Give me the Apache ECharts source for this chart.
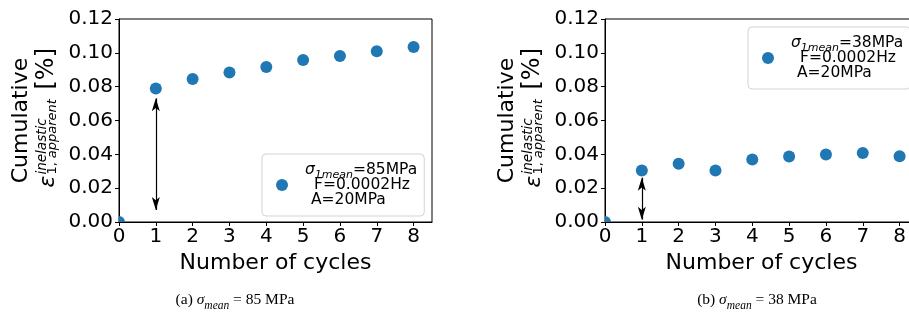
<!DOCTYPE html>
<html>
<head>
<meta charset="utf-8">
<script src="https://cdn.jsdelivr.net/npm/echarts@6/dist/echarts.min.js"></script>
<style>
  html, body { margin: 0; padding: 0; background: #fff; }
  #chart { width: 909px; height: 317px; }
</style>
</head>
<body>
<div id="chart"></div>
<script>
// data
var cycles = [0, 1, 2, 3, 4, 5, 6, 7, 8];
var strainA = [0, 0.0789, 0.0845, 0.0884, 0.0916, 0.0957, 0.0981, 0.1009, 0.1034];
var strainB = [0, 0.0304, 0.0344, 0.0304, 0.0369, 0.0387, 0.0399, 0.0408, 0.0389];
var arrowA = [0.0071, 0.0731];
var arrowB = [0.0014, 0.0262];
var stressMean = [85, 38];
var legendFreq = 'F=0.0002Hz';
var legendAmp = 'A=20MPa';
var captionTags = ['(a)', '(b)'];

var FONT = 'DejaVu Sans';
var BLUE = '#1f77b4';
var gridLeft = [119, 605];
var gridTop = 19;
var gridW = 313;
var gridH = 203;
// matplotlib clips the marker sitting on the axes corner: only a quarter shows
var QUARTER = 'path://M0,0 A10,10 0 0,1 10,10 L0,10 Z';

function legendText(mean) {
    return '{sg|σ}{sb|1mean}{t|=' + mean + 'MPa}\n{t2|' + legendFreq + '}\n{t3|' + legendAmp + '}';
}

var legendRich = {
    sg: { fontFamily: FONT, fontStyle: 'italic', fontSize: 15.5, lineHeight: 15, padding: [0, 0, 0, 12], color: '#000' },
    sb: { fontFamily: FONT, fontStyle: 'italic', fontSize: 11, lineHeight: 15, verticalAlign: 'bottom', padding: [0, 0, -3, 0], color: '#000' },
    t: { fontFamily: FONT, fontSize: 15.5, lineHeight: 15, color: '#000' },
    t2: { fontFamily: FONT, fontSize: 15.5, lineHeight: 15, padding: [0, 0, 0, 21], color: '#000' },
    t3: { fontFamily: FONT, fontSize: 15.5, lineHeight: 15, padding: [0, 0, 0, 18], color: '#000' }
};

function makeGrid(i) {
    return {
        left: gridLeft[i], top: gridTop, width: gridW, height: gridH,
        outerBoundsMode: 'none', containLabel: false,
        show: true, borderColor: '#000', borderWidth: 1, backgroundColor: 'transparent'
    };
}

function makeX(i) {
    return {
        type: 'value', gridIndex: i, min: 0, max: 8.5,
        name: 'Number of cycles', nameLocation: 'middle', nameGap: 27,
        nameTextStyle: { fontFamily: FONT, fontSize: 22, color: '#000' },
        axisLine: { lineStyle: { color: '#000', width: 1 } },
        axisTick: { show: true, inside: false, length: 4, customValues: cycles, lineStyle: { color: '#000' } },
        axisLabel: { customValues: cycles, margin: 5, fontFamily: FONT, fontSize: 20, color: '#000' },
        splitLine: { show: false }
    };
}

function makeY(i) {
    return {
        type: 'value', gridIndex: i, min: 0, max: 0.12, interval: 0.02,
        axisLine: { show: true, lineStyle: { color: '#000', width: 1 } },
        axisTick: { show: true, inside: false, length: 4, lineStyle: { color: '#000' } },
        axisLabel: {
            margin: 6, fontFamily: FONT, fontSize: 20, color: '#000',
            formatter: function (v) { return v.toFixed(2); }
        },
        splitLine: { show: false }
    };
}

function makeSeries(i, vals, arrow) {
    return {
        name: 'leg' + i,
        type: 'scatter', xAxisIndex: i, yAxisIndex: i,
        symbolSize: 12,
        itemStyle: { color: BLUE, opacity: 1 },
        data: cycles.map(function (c, k) {
            if (c === 0 && vals[k] === 0) {
                return { value: [c, vals[k]], symbol: QUARTER, symbolSize: 6, symbolOffset: [3, -3] };
            }
            return [c, vals[k]];
        }),
        markLine: {
            silent: true, animation: false,
            symbol: ['arrow', 'arrow'], symbolSize: [6, 13],
            label: { show: false },
            lineStyle: { color: '#000', width: 1.2, type: 'solid' },
            data: [[{ coord: [1, arrow[0]] }, { coord: [1, arrow[1]] }]]
        }
    };
}

function makeLegend(i, left, top) {
    return {
        data: [{ name: 'leg' + i, icon: 'circle' }],
        left: left, top: top, orient: 'vertical',
        itemWidth: 12, itemHeight: 12,
        padding: [8, 7, 8, 14],
        borderColor: '#d3d3d3', borderWidth: 1, borderRadius: 4,
        backgroundColor: '#fff',
        formatter: function () { return legendText(stressMean[i]); },
        textStyle: { rich: legendRich },
        selectedMode: false
    };
}

function yLabel(gl) {
    var base = { fill: '#000', fontFamily: FONT, verticalAlign: 'middle' };
    function t(o) { return { type: 'text', silent: true, style: Object.assign({}, base, o) }; }
    return {
        type: 'group', x: gl, y: 120.5, rotation: Math.PI / 2, silent: true,
        children: [
            t({ text: 'Cumulative', x: 0, y: -98, align: 'center', fontSize: 22 }),
            t({ text: 'ε', x: -67, y: -71, align: 'left', fontSize: 22, fontStyle: 'italic' }),
            t({ text: 'inelastic', x: -54, y: -77, align: 'left', fontSize: 13.5, fontStyle: 'italic' }),
            t({ text: '{u|1,} {i|apparent}', x: -54, y: -66, align: 'left',
                rich: { u: { fontFamily: FONT, fontSize: 13 }, i: { fontFamily: FONT, fontSize: 13, fontStyle: 'italic' } } }),
            t({ text: '[%]', x: 31, y: -72, align: 'left', fontSize: 24 })
        ]
    };
}

function caption(i, cx) {
    var serif = 'Liberation Serif';
    return {
        type: 'text', silent: true, x: cx, y: 300,
        style: {
            text: '{n|' + captionTags[i] + ' }{g|σ}{s|mean}{n| = ' + stressMean[i] + ' MPa}',
            align: 'center', verticalAlign: 'middle',
            rich: {
                n: { fontFamily: serif, fontSize: 15.5, lineHeight: 18, color: '#000' },
                g: { fontFamily: serif, fontSize: 15.5, lineHeight: 18, fontStyle: 'italic', color: '#000' },
                s: { fontFamily: serif, fontSize: 11.5, lineHeight: 18, fontStyle: 'italic', verticalAlign: 'bottom', padding: [0, 0, -3, 0], color: '#000' }
            }
        }
    };
}

var chart = echarts.init(document.getElementById('chart'), null, { renderer: 'canvas' });
chart.setOption({
    animation: false,
    backgroundColor: '#fff',
    grid: [makeGrid(0), makeGrid(1)],
    xAxis: [makeX(0), makeX(1)],
    yAxis: [makeY(0), makeY(1)],
    legend: [makeLegend(0, 262, 154), makeLegend(1, 748, 27)],
    series: [makeSeries(0, strainA, arrowA), makeSeries(1, strainB, arrowB)],
    graphic: [yLabel(gridLeft[0]), yLabel(gridLeft[1]), caption(0, 235), caption(1, 757)]
});
</script>
</body>
</html>
